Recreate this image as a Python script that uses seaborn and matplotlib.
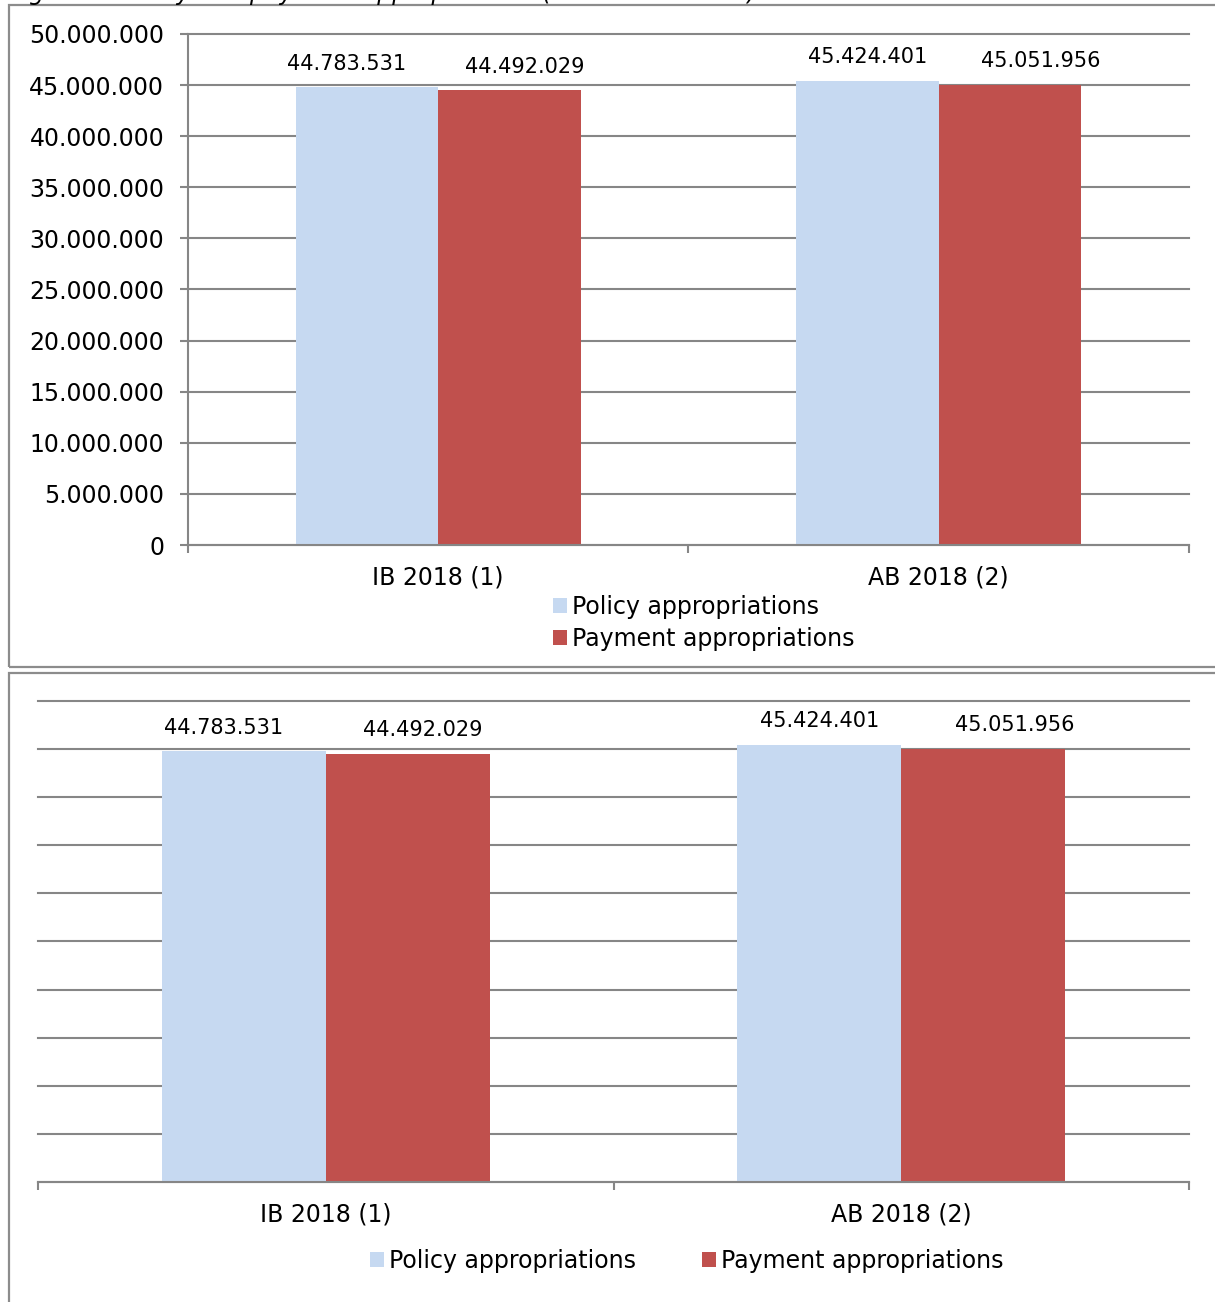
import seaborn as sns
import matplotlib.pyplot as plt
import pandas as pd
import numpy as np
from matplotlib.ticker import FuncFormatter, FixedLocator
from matplotlib.patches import Rectangle, Patch

categories = ["IB 2018 (1)", "AB 2018 (2)"]
series = ["Policy appropriations", "Payment appropriations"]
policy = [44783531, 45424401]
payment = [44492029, 45051956]
y_ticks = np.arange(0, 50000001, 5000000)
title = "Figure 1: Policy and payment appropriations (in thousand EUR)"

colors = ["#C6D9F1", "#C0504D"]
grey = "#868686"
# excel puts some value labels off-centre: pixel nudge per series / category
nudge = [[-20, 0], [15, 31]]

df = pd.DataFrame({
    "category": categories * 2,
    "series": [series[0]] * 2 + [series[1]] * 2,
    "value": policy + payment,
})


def dots(v, pos=None):
    return f"{v:,.0f}".replace(",", ".")


def draw_panel(ax, show_y):
    sns.barplot(data=df, x="category", y="value", hue="series", order=categories,
                hue_order=series, palette=colors, saturation=1, width=0.57,
                legend=False, ax=ax)
    ax.set_xlim(-0.5, 1.5)
    ax.set_ylim(0, 50000000)
    ax.set_yticks(y_ticks)
    ax.set_axisbelow(True)
    ax.grid(axis="y", color=grey, lw=1.5)
    for line in ax.get_ygridlines():
        line.set_clip_on(False)
    ax.set_xlabel("")
    ax.set_ylabel("")

    #category labels centred, tick marks between categories
    ax.set_xticks([0, 1])
    ax.set_xticklabels(categories)
    ax.xaxis.set_minor_locator(FixedLocator([-0.5, 0.5, 1.5]))
    ax.tick_params(axis="x", which="major", length=0, pad=15, labelsize=17)
    ax.tick_params(axis="x", which="minor", length=6, width=1.5, color=grey)
    for s in ["top", "right"]:
        ax.spines[s].set_visible(False)
    ax.spines["bottom"].set_color(grey)
    ax.spines["bottom"].set_linewidth(1.5)

    if show_y:
        ax.yaxis.set_major_formatter(FuncFormatter(dots))
        ax.tick_params(axis="y", length=6, width=1.5, color=grey, pad=11, labelsize=17)
        ax.spines["left"].set_color(grey)
        ax.spines["left"].set_linewidth(1.5)
    else:
        ax.tick_params(axis="y", length=0, labelleft=False)
        ax.spines["left"].set_visible(False)

    for i, cont in enumerate(ax.containers):
        for j, bar in enumerate(cont):
            ax.annotate(dots(bar.get_height()),
                        (bar.get_x() + bar.get_width() / 2, bar.get_height()),
                        xytext=(nudge[i][j] * 0.72, 17), textcoords="offset points",
                        ha="center", va="center", fontsize=15, annotation_clip=False)


fig = plt.figure(figsize=(12.15, 13.02), dpi=100)
ax1 = fig.add_axes([0.1547, 0.5814, 0.8239, 0.3925])
ax2 = fig.add_axes([0.0313, 0.0922, 0.9473, 0.3694])
draw_panel(ax1, True)
draw_panel(ax2, False)

handles = [Patch(facecolor=c, edgecolor="none") for c in colors]
fig.legend(handles, series, loc="upper center", bbox_to_anchor=(0.579, 0.543),
           ncol=1, frameon=False, fontsize=17, handlelength=0.6, handleheight=0.6,
           handletextpad=0.2, labelspacing=0.32, borderpad=0, borderaxespad=0)
fig.legend(handles, series, loc="center", bbox_to_anchor=(0.5654, 0.0315),
           ncol=2, frameon=False, fontsize=17, handlelength=0.6, handleheight=0.6,
           handletextpad=0.2, columnspacing=2.8, borderpad=0, borderaxespad=0)

#panel frames
fig.add_artist(Rectangle((0.0074, 0.4877), 1.1, 0.5085, transform=fig.transFigure,
                         fill=False, ec="#8c8c8c", lw=1.6))
fig.add_artist(Rectangle((0.0074, -0.1), 1.1, 0.5831, transform=fig.transFigure,
                         fill=False, ec="#8c8c8c", lw=1.6))

# caption runs off the top of the page in the source image
fig.text(0.007, 1.0, title, style="italic", fontsize=17, va="baseline")

fig.savefig("out.png", dpi=100)
